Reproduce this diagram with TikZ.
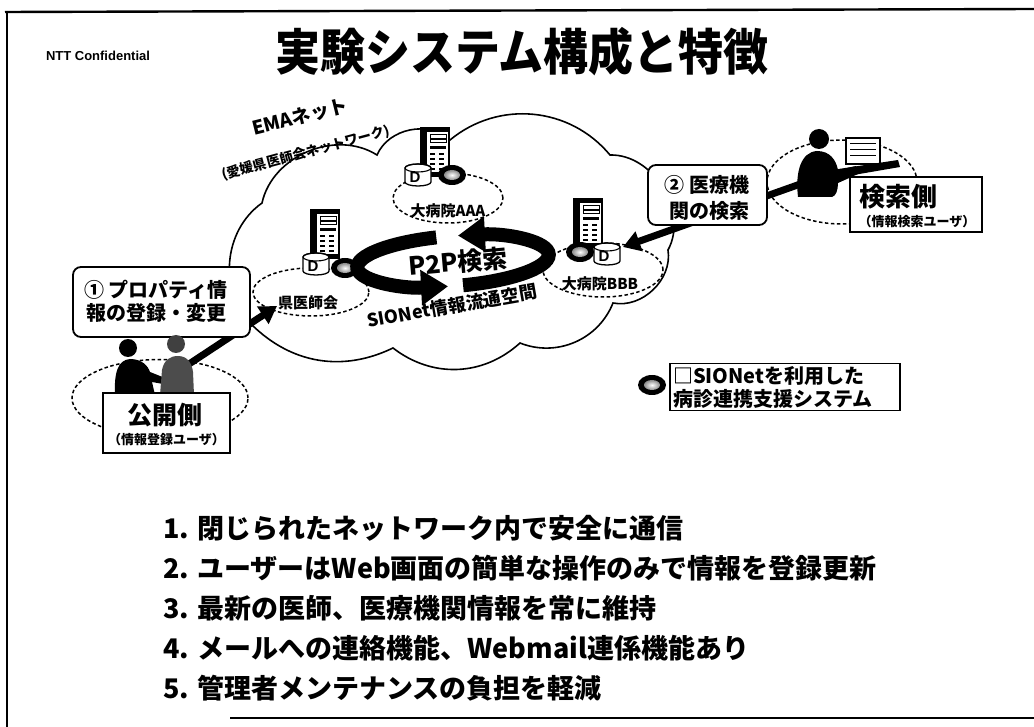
\documentclass[tikz,border=0pt]{standalone}
\usepackage{fontspec}
\setmainfont{Liberation Sans}
\newfontfamily\jp{Noto Sans CJK JP}
\usetikzlibrary{arrows.meta,shapes.geometric}
\newcommand\setfs[1]{\fontsize{#1}{#1}\selectfont}

\tikzset{
  % server tower
  srvpic/.pic={
    \draw[line width=1.3pt, fill=white] (-14,-24) rectangle (14,24);
    \fill (-14,-24) rectangle (-8,24);
    \fill (-8,-24) rectangle (14,-20);
    \draw[line width=1pt] (-5,-17) rectangle (11,-9);
    \fill (-5,-14) rectangle (11,-12);
    \fill (-5,-6) rectangle (11,-3);
    \foreach \yy in {1,6,11,16} {\fill (-5,\yy) rectangle (0,\yy+2); \fill (4,\yy) rectangle (9,\yy+2);}
    \fill (-14,20) rectangle (14,24);
  },
  % database cylinder
  dbpic/.pic={
    \draw[line width=1.3pt, fill=white] (-13,-7) -- (-13,7)
      arc[start angle=180, end angle=360, x radius=13pt, y radius=4pt] -- (13,-7)
      arc[start angle=0, end angle=180, x radius=13pt, y radius=4pt] -- cycle;
    \draw[line width=1.1pt] (0,-7) ellipse[x radius=13pt, y radius=4pt];
    \node[font=\bfseries\setfs{15}, inner sep=0pt] (d) at (-3,2) {D};
  },
  % SIONet terminal disc
  discpic/.pic={
    \fill (0,0) ellipse[x radius=14pt, y radius=10pt];
    \shade[inner color=white, outer color=black!45] (0,0) ellipse[x radius=8pt, y radius=5pt];
  },
  jpb/.style={font=\jp\bfseries\setfs{#1}, inner sep=0pt},
  dashell/.style={draw, ellipse, line width=1.5pt, dash pattern=on 3.5pt off 2.5pt, inner sep=0pt},
  callout/.style={draw, line width=1.8pt, rounded corners=8pt, fill=white, inner sep=0pt},
  userbox/.style={draw, line width=1.5pt, fill=white, inner sep=0pt},
  fatarrow/.style={line width=7pt, -{Triangle[width=20pt,length=17pt]}},
  ringarrow/.style={line width=14pt, -{Triangle[width=34pt,length=27pt]}},
}

\begin{document}
\begin{tikzpicture}[x=1pt,y=-1pt]
\path[use as bounding box, fill=white] (0,0) rectangle (1034,727);

% page frame
\draw[line width=2.4pt] (5,12) -- (1034,9);
\draw[line width=2.4pt] (7,11) -- (7,727);
\draw[line width=2.4pt] (230,718) -- (1034,718);

% header
\node[font=\bfseries\setfs{13}, inner sep=0pt] (ntt) at (98,56) {NTT Confidential};
\node[jpb=45, yscale=1.1] (title) at (522,52) {実験システム構成と特徴};

% network cloud
\draw[line width=1.6pt, fill=white]
  (252,325) to[bend left=50] (262,203) to[bend left=55] (377,155)
  to[bend left=55] (450,140) to[bend left=45] (610,155)
  to[bend left=60] (668,250) to[bend left=55] (613,303)
  to[bend left=45] (520,343) to[bend left=40] (393,348)
  to[bend left=35] cycle;

\node[jpb=19, rotate=14] (ema) at (300,117) {EMAネット};
\node[jpb=13.5, rotate=15] (emasub) at (306,153) {(愛媛県医師会ネットワーク)};

% nodes of the network
\node[dashell, minimum width=110pt, minimum height=50pt] (aaa) at (448,198) {};
\node[dashell, minimum width=116pt, minimum height=48pt] (ken) at (311,292) {};
\node[dashell, minimum width=120pt, minimum height=54pt] (bbb) at (603,270) {};

\pic (aaasrv) at (435,152) {srvpic};
\pic (aaadb) at (418,175) {dbpic};
\pic (aaadisc) at (452,175) {discpic};
\pic (kensrv) at (325,234) {srvpic};
\pic (kendb) at (316,264) {dbpic};
\pic (kendisc) at (345,268) {discpic};
\pic (bbbsrv) at (588,223) {srvpic};
\pic (bbbdb) at (607,254) {dbpic};
\pic (bbbdisc) at (580,252) {discpic};

\node[jpb=15] (aaalbl) at (448,211) {大病院AAA};
\node[jpb=15] (kenlbl) at (308,303) {県医師会};
\node[jpb=15] (bbblbl) at (600,284) {大病院BBB};

% P2P search ring
\coordinate (ring) at (453,261);
\draw[ringarrow, rotate around={4:(ring)}] (ring) ++(-85:96pt and 25pt)
  arc[start angle=-85, end angle=86, x radius=96pt, y radius=25pt];
\draw[ringarrow, rotate around={4:(ring)}] (ring) ++(99:96pt and 25pt)
  arc[start angle=99, end angle=266, x radius=96pt, y radius=25pt];
\node[jpb=25, rotate=5] (p2p) at (458,262) {P2P検索};
\node[jpb=18, rotate=10] (sionet) at (452,306) {SIONet情報流通空間};

% access arrows
\coordinate (pubuser) at (186,366);
\coordinate (kentip) at (277,306);
\coordinate (srchuser) at (806,182);
\coordinate (bbbtip) at (623,247);
\draw[fatarrow] (pubuser) -- (kentip);
\draw[fatarrow] (srchuser) -- (bbbtip);

% step callouts
\node[callout, minimum width=177pt, minimum height=70pt] (step1) at (161.5,302) {};
\node[jpb=20] (step1a) at (156,290) {① プロパティ情};
\node[jpb=20] (step1b) at (156,313) {報の登録・変更};
\node[callout, minimum width=119pt, minimum height=60pt] (step2) at (707.5,195) {};
\node[jpb=20] (step2a) at (707,185) {② 医療機};
\node[jpb=20] (step2b) at (709,211) {関の検索};

% search side user
\node[dashell, minimum width=150pt, minimum height=84pt] (srchell) at (842,182) {};
\fill (819,139) circle[radius=10pt];
\fill (798,197) .. controls (795,172) and (801,152) .. (817,151)
  .. controls (830,151) and (836,160) .. (838,170) -- (856,166) -- (858,174)
  -- (838,183) .. controls (838,190) and (836,196) .. (832,197) -- cycle;
\draw[line width=1.2pt, fill=white] (846,138) rectangle (880,164);
\foreach \yy in {144,150,156} \draw[line width=1pt] (850,\yy) -- (876,\yy);
\fill (832,170) -- (898,160) -- (900,167) -- (836,178) -- cycle;
\node[userbox, minimum width=132pt, minimum height=55pt] (srchbox) at (916,204.5) {};
\node[jpb=26, anchor=west] (srchttl) at (859,197) {検索側};
\node[jpb=13] (srchsub) at (917,222) {（情報検索ユーザ）};

% publishing side users
\node[dashell, minimum width=176pt, minimum height=77pt] (pubell) at (160,398) {};
\fill (128,348) circle[radius=9pt];
\fill (115,395) .. controls (114,372) and (118,360) .. (130,359)
  .. controls (142,359) and (148,366) .. (150,372) -- (165,378) -- (163,384)
  -- (152,382) -- (155,395) -- cycle;
\fill[black!75] (176,344) circle[radius=9pt];
\fill[black!70] (160,395) -- (162,370) .. controls (164,360) and (170,356) .. (178,356)
  .. controls (188,356) and (192,364) .. (193,372) -- (194,395) -- cycle;
\node[userbox, minimum width=127pt, minimum height=60pt] (pubbox) at (166.5,423) {};
\node[jpb=25] (pubttl) at (165,415) {公開側};
\node[jpb=13] (pubsub) at (166.5,440) {（情報登録ユーザ）};

% legend
\pic (legdisc) at (652,385) {discpic};
\node[userbox, minimum width=230pt, minimum height=47pt] (legend) at (785,387) {};
\node[jpb=20, anchor=west] (leg1) at (673,376) {□SIONetを利用した};
\node[jpb=20, anchor=west] (leg2) at (673,399) {病診連携支援システム};

% feature list
\begin{scope}[every node/.style={font=\jp\bfseries\setfs{27}, anchor=west, inner sep=0pt}]
\node (f1) at (163,528) {1. 閉じられたネットワーク内で安全に通信};
\node (f2) at (163,568) {2. ユーザーはWeb画面の簡単な操作のみで情報を登録更新};
\node (f3) at (163,608) {3. 最新の医師、医療機関情報を常に維持};
\node (f4) at (163,648) {4. メールへの連絡機能、Webmail連係機能あり};
\node (f5) at (163,688) {5. 管理者メンテナンスの負担を軽減};
\end{scope}
\end{tikzpicture}
\end{document}
